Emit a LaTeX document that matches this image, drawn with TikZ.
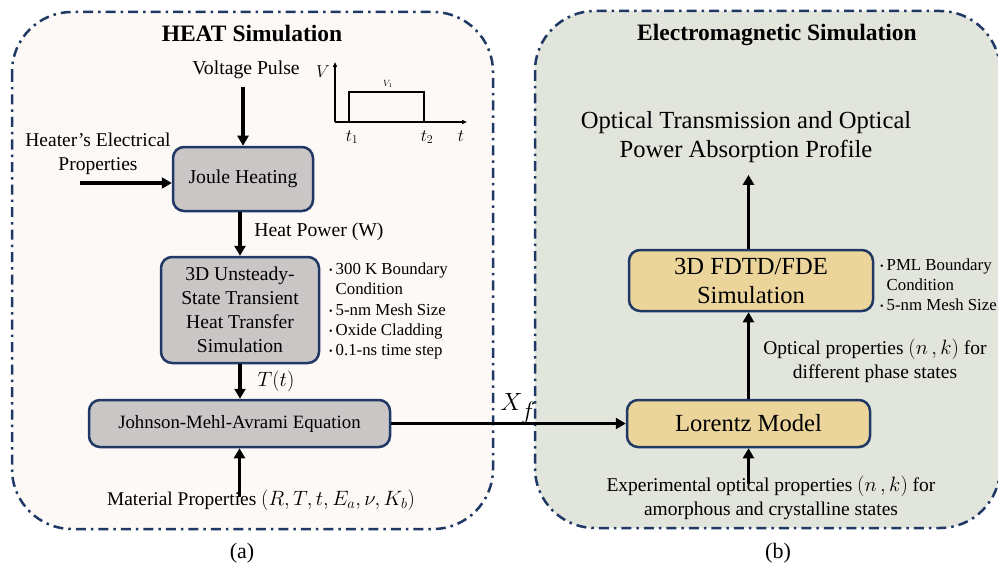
\documentclass[tikz,border=0pt]{standalone}
\usepackage{fontspec}
\setmainfont{Liberation Serif}
\usetikzlibrary{arrows.meta,calc}
\definecolor{navy}{HTML}{1F3864}
\definecolor{boxgrey}{HTML}{C9C6C5}
\definecolor{boxyellow}{HTML}{EBD59B}
\definecolor{leftbg}{HTML}{FDF9F7}
\definecolor{rightbg}{HTML}{E2E5DC}
\newcommand\fsz[2]{\fontsize{#1}{#2}\selectfont}
\newcommand\bul{\makebox[6.5pt][l]{\raisebox{1pt}{\fsz{10}{10}\textbullet}}}
\newcommand\nobul{\hspace*{6.5pt}}
\tikzset{
  panel/.style={draw=navy, line width=2.5pt, dash pattern=on 10pt off 5pt on 2.5pt off 5pt, rounded corners=60pt},
  procbox/.style={draw=navy, line width=2.5pt, rounded corners=11pt, inner sep=0pt, align=center},
  greybox/.style={procbox, fill=boxgrey},
  yellowbox/.style={procbox, fill=boxyellow},
  arr/.style={line width=3.4pt, -{Triangle[length=10pt,width=11pt]}},
  thinarr/.style={line width=1.4pt, -{Triangle[length=5pt,width=4pt]}},
  lbl/.style={inner sep=0pt, align=center},
}
\begin{document}
\begin{tikzpicture}[x=1pt,y=-1pt]
\useasboundingbox (0,0) rectangle (998,567);
% panels
\draw[panel, fill=leftbg] (12,12) rectangle (493,529);
\draw[panel, fill=rightbg] (535,11) rectangle (1000,528);
% titles
\node[lbl, font=\fsz{23.5}{27}\bfseries] (titleA) at (252,33) {HEAT Simulation};
\node[lbl, font=\fsz{23.5}{27}\bfseries] (titleB) at (777,35) {Electromagnetic Simulation};
% left panel boxes
\node[greybox, minimum width=140pt, minimum height=64pt, font=\fsz{19.7}{24}] (joule) at (243,179) {Joule Heating};
\node[greybox, minimum width=158pt, minimum height=106pt, font=\fsz{19.6}{24}] (heat) at (240,310) {3D Unsteady-\\State Transient\\Heat Transfer\\Simulation};
\node[greybox, minimum width=301pt, minimum height=47pt, font=\fsz{18.8}{23}] (jma) at (239.5,423.5) {Johnson-Mehl-Avrami Equation};
% left texts
\node[lbl, font=\fsz{19.7}{24}] (voltage) at (246,70) {Voltage Pulse};
\node[lbl, font=\fsz{19.5}{24}] (heater) at (98,154) {Heater's Electrical\\Properties};
\coordinate (heaterin) at (80,183);
\node[lbl, font=\fsz{19.7}{24}] (hp) at (319,232) {Heat Power (W)};
\node[lbl, font=\fsz{19.7}{24}] (tt) at (276,381) {$T(t)$};
\node[lbl, font=\fsz{19.4}{24}] (mat) at (261,500) {Material Properties $(R,T,t,E_a,\nu,K_b)$};
\node[lbl, align=left, anchor=west, font=\fsz{16.8}{20.2}] (bulA) at (329,311) {\bul 300 K Boundary\\\nobul Condition\\\bul 5-nm Mesh Size\\\bul Oxide Cladding\\\bul 0.1-ns time step};
% pulse graph
\draw[thinarr] (335,122) -- (335,62);
\draw[thinarr] (335,122) -- (467,122);
\draw[line width=1.4pt] (349,122) -- (349,92) -- (424,92) -- (424,122);
\node[lbl, font=\fsz{19}{20}] at (323,72) {$V$};
\node[lbl, font=\fsz{9}{10}] at (388,84) {$V_1$};
\node[lbl, font=\fsz{17}{20}] at (352,137) {$t_1$};
\node[lbl, font=\fsz{17}{20}] at (427,137) {$t_2$};
\node[lbl, font=\fsz{17}{20}] at (461,136) {$t$};
% left arrows
\draw[arr] ([yshift=-8pt]voltage.south -| joule.north) -- (joule.north);
\draw[arr] (heaterin) -- (heaterin -| joule.west);
\draw[arr] (joule.south -| heat.north) -- (heat.north);
\draw[arr] (heat.south) -- (heat.south |- jma.north);
\draw[arr] ([yshift=-8pt]mat.north -| jma.south) -- (jma.south);
% right panel
\node[yellowbox, minimum width=243pt, minimum height=47pt, font=\fsz{24.6}{29}] (lorentz) at (748.5,423.5) {Lorentz Model};
\node[yellowbox, minimum width=244pt, minimum height=61pt, font=\fsz{24.6}{29}] (fdtd) at (751,280.5) {3D FDTD/FDE\\Simulation};
\node[lbl, font=\fsz{24.6}{29}] (optout) at (746,137) {Optical Transmission and Optical\\Power Absorption Profile};
\node[lbl, font=\fsz{19.5}{24}] (optprop) at (875,361) {Optical properties $(n\,,k)$ for\\different phase states};
\node[lbl, font=\fsz{19.5}{24}] (exper) at (771,498) {Experimental optical properties $(n\,,k)$ for\\amorphous and crystalline states};
\node[lbl, align=left, anchor=west, font=\fsz{16.8}{20}] (bulB) at (880,284.5) {\bul PML Boundary\\\nobul Condition\\\bul 5-nm Mesh Size};
\draw[arr] (lorentz.north) -- (lorentz.north |- fdtd.south);
\draw[arr] (lorentz.north |- fdtd.north) -- ([yshift=-12pt]lorentz.north |- optout.south);
\draw[arr] ([yshift=-8pt]exper.north -| lorentz.south) -- (lorentz.south);
% connecting arrow
\draw[arr] (jma.east) -- (lorentz.west);
\node[lbl, font=\fsz{36}{40}] (xf) at (518,409) {$X_f$};
% captions
\node[lbl, font=\fsz{22}{26}] (capa) at (242,553) {(a)};
\node[lbl, font=\fsz{22}{26}] (capb) at (778,553) {(b)};
\end{tikzpicture}
\end{document}
